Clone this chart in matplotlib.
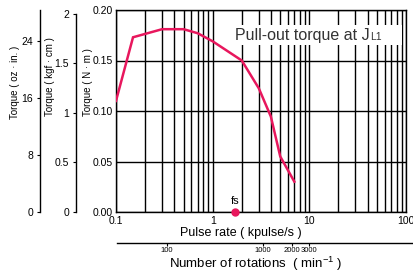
import matplotlib
matplotlib.use('Agg')
import matplotlib.pyplot as plt
import numpy as np
from matplotlib.patches import Rectangle

plt.rcParams['font.family'] = ['Liberation Sans', 'DejaVu Sans']
plt.rcParams['mathtext.fontset'] = 'custom'
plt.rcParams['mathtext.rm'] = 'Liberation Sans'

# pull-out torque curve (kpulse/s, N·m)
pulse = [0.1, 0.15, 0.3, 0.5, 0.7, 1.0, 2.0, 3.0, 4.0, 5.0, 7.0]
torque = [0.110, 0.173, 0.181, 0.181, 0.177, 0.169, 0.150, 0.1225, 0.0945, 0.055, 0.030]
fs = 1.7

x_ticks = [0.1, 1, 10, 100]
x_labels = ['0.1', '1', '10', '100']
nm_ticks = [0.0, 0.05, 0.10, 0.15, 0.20]
kgf_ticks = [0, 0.5, 1, 1.5, 2]
kgf_labels = ['0', '0.5', '1', '1.5', '2']
oz_ticks = [0, 8, 16, 24]
rpm_ticks = [100, 1000, 2000, 3000]

NM_PER_KGFCM = 0.0980665
NM_PER_OZIN = 0.00706155
RPM_PER_KPPS = 300.0  # 1.8 deg/step

W, H = 414, 274
fig = plt.figure(figsize=(W / 100, H / 100), dpi=100)


def fx(px):
    return px / W


def fy(py):
    return 1 - py / H


red = '#e8175d'
L, R, T, B = 116, 406, 10, 212

ax = fig.add_axes([fx(L), fy(B), fx(R - L), (B - T) / H])
ax.set_xscale('log')
ax.set_xlim(0.1, 100)
ax.set_ylim(0, 0.2)
ax.plot(pulse, torque, color=red, lw=1.8, zorder=3, solid_joinstyle='miter')
ax.plot([fs], [0], 'o', color=red, ms=5, clip_on=False, zorder=4)
ax.text(fs, 0.006, 'fs', ha='center', va='bottom', fontsize=8)

ax.set_xticks(x_ticks)
ax.set_xticklabels(x_labels)
ax.xaxis.set_minor_locator(matplotlib.ticker.LogLocator(base=10, subs=np.arange(2, 10)))
ax.xaxis.set_minor_formatter(matplotlib.ticker.NullFormatter())
ax.set_yticks(nm_ticks)
ax.set_yticklabels(['%.2f' % v for v in nm_ticks])
ax.grid(which='both', axis='x', color='black', lw=1.0)
ax.grid(which='major', axis='y', color='black', lw=1.0)
ax.tick_params(which='both', length=0, labelsize=7.5, pad=2)
ax.tick_params(axis='x', pad=3)
for s in ax.spines.values():
    s.set_linewidth(1.0)

# white box behind the caption
ax.add_patch(Rectangle((fx(232), fy(45)), fx(402 - 232), 20 / H, transform=fig.transFigure,
                       facecolor='white', edgecolor='none', zorder=2.5))
t1 = fig.text(fx(235), fy(40), 'Pull-out torque at J', fontsize=11.5, color='#333333',
              va='baseline')
fig.canvas.draw()
bb = t1.get_window_extent()
fig.text(bb.x1 / W + 0.001, fy(40), 'L1', fontsize=7.5, color='#333333', va='baseline')

# kgf·cm axis
ax_k = fig.add_axes([fx(76), fy(B), 0.01, (B - T) / H])
ax_k.set_ylim(0, 0.2 / NM_PER_KGFCM)
ax_k.spines['left'].set_bounds(0, 2)
# oz·in axis
ax_o = fig.add_axes([fx(40), fy(B), 0.01, (B - T) / H])
ax_o.set_ylim(0, 0.2 / NM_PER_OZIN)
for a in (ax_k, ax_o):
    a.patch.set_visible(False)
    for k in ('right', 'top', 'bottom'):
        a.spines[k].set_visible(False)
    a.spines['left'].set_linewidth(1.0)
    a.set_xticks([])
    a.tick_params(axis='y', length=2, width=0.8, labelsize=7.5, pad=3)
ax_k.set_yticks(kgf_ticks)
ax_k.set_yticklabels(kgf_labels)
ax_o.set_yticks(oz_ticks)

fig.text(fx(88), fy(82), 'Torque ( N · m )', rotation=90, ha='center', va='center', fontsize=7)
fig.text(fx(50), fy(77), 'Torque ( kgf · cm )', rotation=90, ha='center', va='center', fontsize=7)
fig.text(fx(15), fy(82), 'Torque ( oz · in. )', rotation=90, ha='center', va='center', fontsize=7)
fig.text(fx(241), fy(233), 'Pulse rate ( kpulse/s )', ha='center', va='center', fontsize=9)

# rotation speed axis
dec = (R - L) / 3.0
r0, r1 = 117, 414
lo = 0.1 * 10 ** ((r0 - L) / dec) * RPM_PER_KPPS
hi = 0.1 * 10 ** ((r1 - L) / dec) * RPM_PER_KPPS
ax_r = fig.add_axes([fx(r0), fy(243), fx(r1 - r0), 0.0001])
ax_r.set_xscale('log')
ax_r.set_xlim(lo, hi)
ax_r.patch.set_visible(False)
for k in ('left', 'right', 'top'):
    ax_r.spines[k].set_visible(False)
ax_r.spines['bottom'].set_linewidth(1.0)
ax_r.set_yticks([])
ax_r.set_xticks(rpm_ticks)
ax_r.set_xticklabels([str(v) for v in rpm_ticks])
ax_r.xaxis.set_minor_locator(matplotlib.ticker.NullLocator())
ax_r.tick_params(axis='x', length=2, width=0.8, labelsize=5.5, pad=1)
fig.text(fx(256), fy(263.5), r'Number of rotations  ( min$^{\mathregular{-1}}$ )', ha='center',
         va='center', fontsize=9.5)

fig.savefig('out.png', dpi=100)
